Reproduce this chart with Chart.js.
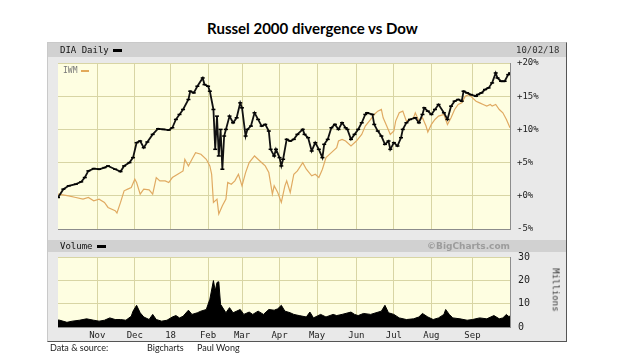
<!DOCTYPE html>
<html>
<head>
<meta charset="utf-8">
<script src="https://cdn.jsdelivr.net/npm/chart.js@4.4.1/dist/chart.umd.min.js"></script>
<style>
  body { margin: 0; width: 640px; height: 360px; background: #fff; position: relative; overflow: hidden; font-family: "DejaVu Sans Mono", monospace; }
  canvas { position: absolute; left: 0; top: 0; }
  .abs { position: absolute; white-space: nowrap; }
  #title { left: 0; width: 625px; top: 19px; text-align: center; font: bold 15px Lato, "Open Sans", sans-serif; color: #000; }
  #panel { left: 47px; top: 42px; width: 518px; height: 298px; background: #e9e9e9; border: 1px solid #c9c9c9; border-right-color: #555; border-bottom-color: #555; }
  .bar { left: 48px; width: 518px; background: #d1d1d1; }
  .hdr { font-size: 9px; line-height: 12px; color: #111; }
  .dash { display: inline-block; width: 9px; height: 3px; background: #000; vertical-align: middle; margin-left: 4px; }
  .foot { top: 342px; font: 9px Lato, sans-serif; color: #222; }
</style>
</head>
<body>
<div class="abs" id="title">Russel 2000 divergence vs Dow</div>
<div class="abs" id="panel"></div>
<div class="abs bar" style="top:43px;height:14px"></div>
<div class="abs bar" style="top:240px;height:12px"></div>
<canvas id="priceChart" width="640" height="360"></canvas>
<canvas id="volChart" width="640" height="360"></canvas>
<div class="abs hdr" style="left:60px;top:44px">DIA Daily<span class="dash"></span></div>
<div class="abs hdr" style="left:516px;top:44px;color:#333">10/02/18</div>
<div class="abs hdr" style="left:63px;top:65px;font-size:8px;color:#777">IWM<span class="dash" style="background:#e2a95a;width:8px;height:2px"></span></div>
<div class="abs hdr" style="left:60px;top:240px">Volume<span class="dash"></span></div>
<div class="abs hdr" style="right:130px;top:240px;font:bold 9px 'DejaVu Sans',sans-serif;line-height:12px;color:#9c9c9c">©BigCharts.com</div>
<div class="abs hdr" style="left:534px;top:284px;transform:rotate(90deg);color:#333">Millions</div>
<div class="abs foot" style="left:50px">Data &amp; source:</div>
<div class="abs foot" style="left:147px">Bigcharts</div>
<div class="abs foot" style="left:197px">Paul Wong</div>
<script>
// x = trading session (0 = 2 Oct 2017, 253 = 2 Oct 2018)
const monthIdx = [22, 43, 63, 84, 103, 124, 145, 167, 188, 209, 232];
const monthLabels = ["Nov", "Dec", "18", "Feb", "Mar", "Apr", "May", "Jun", "Jul", "Aug", "Sep"];

// DIA, % change since start
const diaIdx = [
  0, 3, 6, 10, 13, 15, 17, 20, 23, 26,
  28, 32, 35, 37, 40, 42, 44, 46, 48, 50,
  53, 56, 59, 62, 64, 66, 68, 70, 73, 74,
  76, 78, 81, 82, 84, 85, 87, 88, 89, 90,
  91, 92, 93, 94, 96, 98, 100, 102, 103, 105,
  106, 108, 110, 112, 114, 116, 118, 119, 121, 122,
  124, 125, 126, 128, 130, 132, 134, 137, 138, 140,
  142, 144, 146, 148, 149, 151, 153, 155, 157, 159,
  161, 162, 164, 166, 168, 170, 172, 173, 176, 177,
  179, 181, 183, 185, 186, 188, 190, 192, 193, 195,
  197, 200, 202, 204, 205, 207, 209, 211, 213, 216,
  218, 220, 222, 224, 226, 227, 229, 231, 234, 235,
  237, 239, 241, 243, 245, 246, 248, 250, 252, 253
];
const diaPct = [
  -0.25, 1.0, 1.5, 1.75, 2.1, 2.75, 3.75, 4.1, 4.0, 4.25,
  4.5, 4.0, 3.65, 4.5, 5.0, 5.75, 8.0, 8.25, 7.25, 8.1,
  9.25, 10.1, 10.0, 9.9, 10.25, 11.5, 12.25, 13.0, 14.5, 15.75,
  15.5, 16.5, 17.75, 16.75, 16.5, 15.75, 13.0, 7.0, 12.0, 6.0,
  10.0, 4.0, 9.0, 10.0, 12.0, 11.0, 11.75, 14.0, 13.25, 9.0,
  10.0, 10.5, 12.5, 11.5, 10.5, 10.75, 9.75, 7.0, 6.0, 7.0,
  5.75, 4.5, 5.5, 8.5, 8.25, 8.5, 9.25, 10.0, 9.25, 8.75,
  6.75, 8.0, 7.0, 5.75, 7.75, 8.5, 10.25, 10.75, 10.0, 11.0,
  10.25, 10.0, 8.5, 9.25, 10.0, 11.0, 12.25, 12.5, 12.25, 10.75,
  9.75, 9.0, 7.75, 8.25, 7.0, 8.0, 7.5, 8.75, 10.0, 11.0,
  11.5, 11.75, 11.0, 12.25, 13.25, 12.75, 12.25, 13.0, 13.75, 12.5,
  11.5, 13.5, 14.25, 14.5, 14.25, 15.75, 15.5, 15.25, 15.0, 15.25,
  15.5, 16.0, 16.25, 17.0, 18.5, 17.75, 17.25, 17.25, 18.25, 18.5
];

// IWM, % change since start
const iwmIdx = [
  0, 6, 10, 14, 17, 20, 23, 26, 28, 32,
  33, 35, 37, 39, 41, 43, 44, 46, 48, 51,
  53, 55, 57, 60, 62, 64, 67, 70, 71, 73,
  75, 77, 80, 83, 85, 86, 87, 89, 90, 92,
  94, 95, 97, 99, 101, 103, 105, 107, 110, 113,
  115, 116, 118, 120, 121, 123, 125, 127, 128, 130,
  132, 134, 137, 139, 142, 144, 146, 148, 150, 153,
  156, 157, 159, 161, 164, 167, 170, 172, 175, 177,
  179, 181, 182, 184, 186, 188, 189, 191, 193, 195,
  197, 199, 200, 202, 204, 206, 207, 209, 211, 213,
  216, 218, 220, 222, 224, 226, 228, 230, 232, 234,
  236, 238, 240, 242, 243, 245, 247, 249, 251, 253
];
const iwmPct = [
  0.25, 0, -0.25, -0.5, -0.25, -0.75, -0.5, -1.0, -1.75, -2.25,
  -2.6, -1.0, 0.75, 1.0, 1.25, 2.5, 2.0, 0.25, 1.0, 0.9,
  0.25, 2.75, 2.25, 2.25, 2.0, 2.75, 3.25, 3.75, 5.5, 4.5,
  5.5, 6.5, 6.25, 5.5, 4.5, 3.25, -1.0, -0.5, -2.75, -1.5,
  -0.5, 2.0, 1.75, 2.25, 3.25, 1.5, 3.5, 5.0, 6.0, 5.25,
  4.75, 4.5, 3.5, 0.25, 1.5, 0.5, -1.0, 1.5, 2.25, 0.5,
  3.25, 3.75, 5.0, 4.0, 3.0, 3.25, 2.75, 4.0, 5.75, 6.5,
  7.25, 8.25, 8.5, 8.25, 7.5, 8.25, 9.25, 10.5, 11.5, 12.25,
  12.75, 13.0, 11.75, 10.5, 9.25, 9.75, 11.25, 12.5, 12.75, 11.25,
  11.5, 11.75, 12.5, 11.25, 11.75, 10.5, 9.6, 10.75, 11.5, 12.0,
  12.25, 10.75, 11.75, 13.0, 13.75, 14.0, 15.0, 15.25, 14.75, 14.25,
  14.0, 13.75, 13.5, 13.75, 13.5, 13.75, 13.0, 12.5, 11.5, 10.25
];

// DIA volume, millions
const volIdx = [
  0, 1, 5, 8, 12, 16, 20, 23, 26, 29,
  32, 35, 38, 41, 42, 44, 46, 48, 51, 53,
  55, 58, 61, 64, 66, 68, 70, 73, 75, 78,
  80, 83, 85, 87, 88, 89, 90, 91, 94, 96,
  98, 102, 104, 107, 109, 112, 115, 118, 121, 123,
  125, 127, 130, 132, 135, 139, 141, 143, 147, 150,
  154, 156, 159, 164, 166, 168, 171, 175, 178, 181,
  183, 185, 188, 191, 195, 199, 202, 204, 207, 210,
  213, 216, 217, 219, 221, 225, 229, 232, 236, 240,
  244, 247, 249, 251, 252, 253
];
const volM = [
  3.0, 2.9, 2.0, 2.5, 2.9, 3.5, 2.9, 2.5, 2.9, 3.9,
  3.2, 3.2, 2.9, 4.6, 6.8, 9.3, 6.1, 4.3, 3.2, 5.4,
  3.2, 2.5, 2.9, 4.3, 4.9, 3.9, 4.6, 7.2, 5.4, 6.1,
  6.8, 7.5, 11.9, 19.9, 15.5, 19.1, 19.4, 9.7, 6.1, 8.3,
  6.1, 7.5, 5.4, 6.4, 5.4, 6.8, 5.4, 7.5, 7.2, 7.8,
  9.3, 6.8, 6.1, 5.4, 4.9, 4.3, 6.4, 3.9, 5.4, 4.3,
  5.4, 4.9, 5.4, 6.4, 5.4, 4.9, 5.8, 5.4, 6.1, 6.8,
  9.3, 6.1, 5.4, 3.9, 3.2, 3.5, 4.3, 5.8, 4.3, 3.2,
  3.9, 5.4, 7.5, 5.4, 3.9, 3.5, 2.9, 3.2, 3.9, 3.5,
  4.9, 3.5, 3.9, 5.4, 4.6, 4.6
];

const gridCol = "#d8d5a4";
const axisFont = { family: "DejaVu Sans Mono", size: 9 };

// yellow plot background
const plotBg = {
  id: "plotBg",
  beforeDraw(chart) {
    const { ctx, chartArea: a } = chart;
    ctx.save();
    ctx.fillStyle = "#fefee1";
    ctx.fillRect(a.left, a.top, a.right - a.left, a.bottom - a.top);
    ctx.restore();
  }
};

function monthTicks(scale) {
  scale.ticks = monthIdx.map(v => ({ value: v }));
}

const pts = (xs, ys) => xs.map((x, i) => ({ x: x, y: ys[i] }));

// prix
new Chart(document.getElementById("priceChart"), {
  type: "line",
  data: {
    datasets: [
      {
        label: "DIA",
        data: pts(diaIdx, diaPct),
        borderColor: "#111",
        borderWidth: 1.8,
        pointStyle: "line",
        pointRadius: 2,
        pointBorderWidth: 1.5,
        pointBorderColor: "#000",
        tension: 0
      },
      {
        label: "IWM",
        data: pts(iwmIdx, iwmPct),
        borderColor: "#e0aa62",
        borderWidth: 1.2,
        pointRadius: 0,
        tension: 0
      }
    ]
  },
  options: {
    responsive: false,
    animation: false,
    events: [],
    layout: { padding: { left: 58, top: 63, right: 90, bottom: 131 } },
    plugins: { legend: { display: false }, tooltip: { enabled: false } },
    scales: {
      x: {
        type: "linear", min: 0, max: 253,
        afterBuildTicks: monthTicks,
        afterFit: s => { s.height = 0; },
        ticks: { display: false },
        grid: { color: gridCol, drawTicks: false },
        border: { color: "#8c8c8c" }
      },
      y: {
        position: "right", min: -5, max: 20,
        afterFit: s => { s.width = 40; },
        ticks: {
          stepSize: 5, padding: 7, color: "#222", font: axisFont,
          callback: v => (v >= 0 ? "+" : "") + v + "%"
        },
        grid: { color: gridCol, drawTicks: false },
        border: { color: "#8c8c8c" }
      }
    }
  },
  plugins: [plotBg]
});

// volume
new Chart(document.getElementById("volChart"), {
  type: "line",
  data: {
    datasets: [{
      label: "Volume",
      data: pts(volIdx, volM),
      borderColor: "#000",
      backgroundColor: "#000",
      borderWidth: 1,
      pointRadius: 0,
      fill: "origin",
      tension: 0
    }]
  },
  options: {
    responsive: false,
    animation: false,
    events: [],
    layout: { padding: { left: 58, top: 257, right: 90, bottom: 18 } },
    plugins: { legend: { display: false }, tooltip: { enabled: false } },
    scales: {
      x: {
        type: "linear", min: 0, max: 253,
        afterBuildTicks: monthTicks,
        afterFit: s => { s.height = 15; },
        ticks: {
          autoSkip: false, maxRotation: 0, padding: 3, color: "#222", font: axisFont,
          callback: (v, i) => monthLabels[i]
        },
        grid: { color: gridCol, drawTicks: false },
        border: { color: "#8c8c8c" }
      },
      y: {
        position: "right", min: 0, max: 30,
        afterFit: s => { s.width = 40; },
        ticks: { stepSize: 10, padding: 8, color: "#222", font: { family: "DejaVu Sans Mono", size: 10 } },
        grid: { color: gridCol, drawTicks: false },
        border: { color: "#8c8c8c" }
      }
    }
  },
  plugins: [plotBg]
});
</script>
</body>
</html>
